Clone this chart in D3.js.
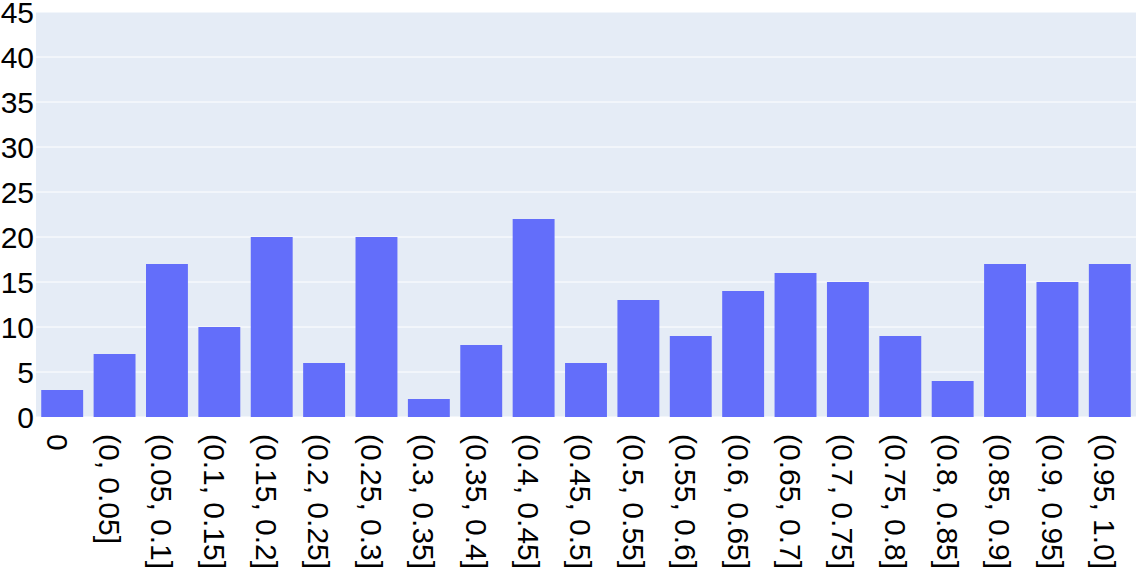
<!DOCTYPE html>
<html>
<head>
<meta charset="utf-8">
<script src="https://cdn.jsdelivr.net/npm/d3@7"></script>
<style>
  body { margin: 0; background: #fff; }
  text { font-family: "Liberation Sans", Arial, sans-serif; fill: #000; }
</style>
</head>
<body>
<svg id="chart"></svg>
<script>
// bins and counts
var categories = ["0", "(0, 0.05]", "(0.05, 0.1]", "(0.1, 0.15]", "(0.15, 0.2]", "(0.2, 0.25]",
  "(0.25, 0.3]", "(0.3, 0.35]", "(0.35, 0.4]", "(0.4, 0.45]", "(0.45, 0.5]", "(0.5, 0.55]",
  "(0.55, 0.6]", "(0.6, 0.65]", "(0.65, 0.7]", "(0.7, 0.75]", "(0.75, 0.8]", "(0.8, 0.85]",
  "(0.85, 0.9]", "(0.9, 0.95]", "(0.95, 1.0]"];
var counts = [3, 7, 17, 10, 20, 6, 20, 2, 8, 22, 6, 13, 9, 14, 16, 15, 9, 4, 17, 15, 17];
var yTicks = [0, 5, 10, 15, 20, 25, 30, 35, 40, 45];

var W = 1136, H = 574;
var margin = {top: 12, right: 0, bottom: 157, left: 36};
var w = W - margin.left - margin.right;
var h = H - margin.top - margin.bottom;

var svg = d3.select("#chart").attr("width", W).attr("height", H);
var g = svg.append("g").attr("transform", "translate(" + margin.left + "," + margin.top + ")");

var x = d3.scaleBand().domain(categories).range([0, w]).paddingInner(0.2).paddingOuter(0.1);
var y = d3.scaleLinear().domain([0, 45]).range([h, 0]);

g.append("rect").attr("width", w).attr("height", h).attr("fill", "#E5ECF6");

// grid
g.selectAll(".grid").data(yTicks).enter()
  .append("line")
  .attr("x1", 0).attr("x2", w)
  .attr("y1", function(d) { return y(d); })
  .attr("y2", function(d) { return y(d); })
  .attr("stroke", "#fff")
  .attr("stroke-width", 1);

// bars
g.selectAll(".bar").data(counts).enter()
  .append("rect")
  .attr("x", function(d, i) { return x(categories[i]); })
  .attr("y", function(d) { return y(d); })
  .attr("width", x.bandwidth())
  .attr("height", function(d) { return h - y(d); })
  .attr("fill", "#636EFA");

// y axis
var yAxis = g.append("g").call(d3.axisLeft(y).tickValues(yTicks).tickSize(0).tickPadding(2));
yAxis.select(".domain").remove();
yAxis.selectAll("text").style("font-size", "30px").attr("dy", "0.35em");

// x axis, labels turned to read downward
var xAxis = g.append("g").attr("transform", "translate(0," + h + ")")
  .call(d3.axisBottom(x).tickSize(0));
xAxis.select(".domain").remove();
xAxis.selectAll("text")
  .style("font-size", "30px")
  .attr("text-anchor", "start")
  .attr("x", 0).attr("y", 0)
  .attr("dy", "0.52em")
  .attr("transform", "translate(0,17) rotate(90)");
</script>
</body>
</html>
